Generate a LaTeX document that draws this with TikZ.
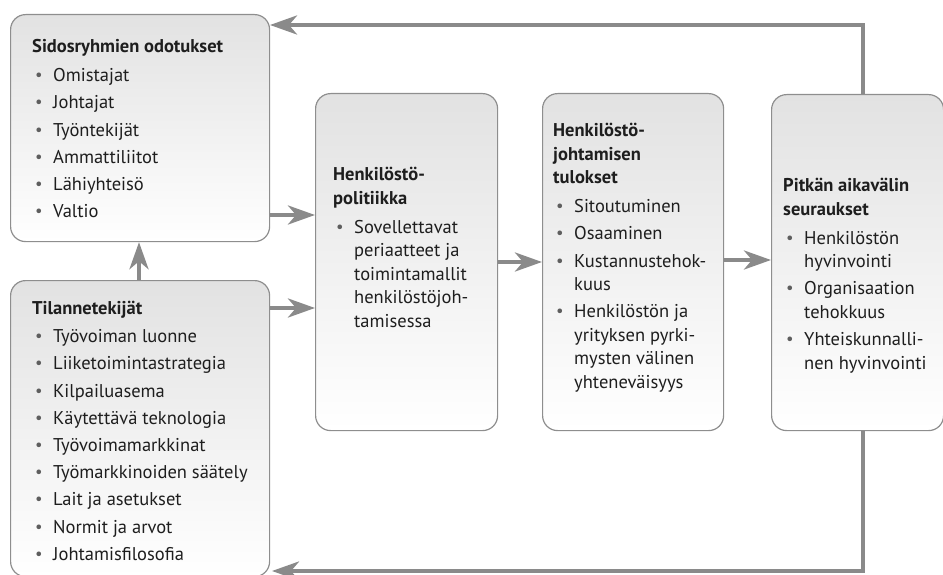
\documentclass[tikz,border=0pt]{standalone}
\usepackage{fontspec}
\setmainfont{PT Sans}
\usetikzlibrary{arrows.meta}
\definecolor{boxline}{HTML}{8E8E8E}
\definecolor{boxtop}{HTML}{E2E2E2}
\definecolor{arrcol}{HTML}{8A8A8A}
\definecolor{txtcol}{HTML}{1E1E1E}
\definecolor{bulcol}{HTML}{5E5E5E}
\newcommand{\boxtext}[2]{\parbox[t]{#1}{\raggedright\fontsize{18.5}{23.5}\selectfont\parskip=3.7pt\relax #2}}
\newcommand{\ttl}[1]{{\bfseries #1}\par\vspace{1.5pt}}
\newcommand{\nl}{\newline}
\newcommand{\bitem}{\par\hangindent=21pt\hangafter=1\noindent\hspace*{3pt}\makebox[18pt][l]{\color{bulcol}\raisebox{0.1ex}{\scalebox{0.9}{•}}}}
\begin{document}
\begin{tikzpicture}[x=1pt,y=-1pt,
  box/.style={draw=boxline, line width=1.2pt, rounded corners=15pt, top color=boxtop, bottom color=white, anchor=north west, inner sep=0pt},
  lbl/.style={anchor=base west, inner sep=0pt, text=txtcol},
  conn/.style={draw=arrcol, line width=4pt, -{Stealth[length=27pt,width=19pt,inset=8pt]}}]
\useasboundingbox (0,0) rectangle (943,575);
% boxes
\node[box, minimum width=259pt, minimum height=227pt] (b1) at (10,14) {};
\node[box, minimum width=259pt, minimum height=296pt] (b2) at (10,280) {};
\node[box, minimum width=182pt, minimum height=337pt] (b3) at (315,93) {};
\node[box, minimum width=181pt, minimum height=337pt] (b4) at (542,93) {};
\node[box, minimum width=172pt, minimum height=336pt] (b5) at (771,94) {};
% texts
\node[lbl] (t1) at (32,53) {\boxtext{230pt}{\ttl{Sidosryhmien odotukset}%
\bitem Omistajat
\bitem Johtajat
\bitem Työntekijät
\bitem Ammattiliitot
\bitem Lähiyhteisö
\bitem Valtio}};
\node[lbl] (t2) at (32,314) {\boxtext{230pt}{\ttl{Tilannetekijät}%
\bitem Työvoiman luonne
\bitem Liiketoimintastrategia
\bitem Kilpailuasema
\bitem Käytettävä teknologia
\bitem Työvoimamarkkinat
\bitem Työmarkkinoiden säätely
\bitem Lait ja asetukset
\bitem Normit ja arvot
\bitem Johtamisfilosofia}};
\node[lbl] (t3) at (333,181) {\boxtext{160pt}{\ttl{Henkilöstö-\nl politiikka}%
\bitem Sovellettavat\nl periaatteet ja\nl toimintamallit\nl henkilöstöjoh-\nl tamisessa}};
\node[lbl] (t4) at (553,137) {\boxtext{165pt}{\ttl{Henkilöstö-\nl johtamisen\nl tulokset}%
\bitem Sitoutuminen
\bitem Osaaminen
\bitem Kustannustehok-\nl kuus
\bitem Henkilöstön ja\nl yrityksen pyrki-\nl mysten välinen\nl yhteneväisyys}};
\node[lbl] (t5) at (783,192) {\boxtext{158pt}{\ttl{Pitkän aikavälin\nl seuraukset}%
\bitem Henkilöstön\nl hyvinvointi
\bitem Organisaation\nl tehokkuus
\bitem Yhteiskunnalli-\nl nen hyvinvointi}};
% helper coordinates
\coordinate (ya) at (0,215);
\coordinate (yb) at (0,308);
\coordinate (yc) at (0,262);
\coordinate (yd) at (0,260);
\coordinate (xup) at (139,0);
\coordinate (top) at (863,25);
\coordinate (bot) at (863,571);
\coordinate (topend) at (270,25);
\coordinate (botend) at (272,571);
% connectors
\draw[conn] (b1.east |- ya) -- (b3.west |- ya);
\draw[conn] (b2.east |- yb) -- (b3.west |- yb);
\draw[conn] (b2.north -| xup) -- (b1.south -| xup);
\draw[conn] (b3.east |- yc) -- (b4.west |- yc);
\draw[conn] (b4.east |- yd) -- (b5.west |- yd);
\draw[conn] (b5.north -| top) -- (top) -- (topend);
\draw[conn] (b5.south -| bot) -- (bot) -- (botend);
\end{tikzpicture}
\end{document}
